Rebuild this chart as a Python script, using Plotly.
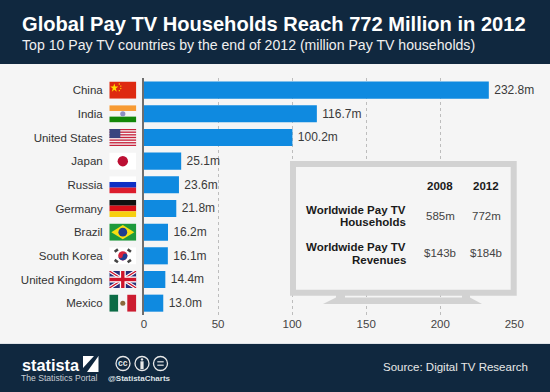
import base64
import plotly.graph_objects as go

countries = ["China", "India", "United States", "Japan", "Russia", "Germany", "Brazil",
             "South Korea", "United Kingdom", "Mexico"]
households = [232.8, 116.7, 100.2, 25.1, 23.6, 21.8, 16.2, 16.1, 14.4, 13.0]
table_years = ["2008", "2012"]
table_households = ["585m", "772m"]
table_revenues = ["$143b", "$184b"]
title_text = "Global Pay TV Households Reach 772 Million in 2012"
subtitle_text = "Top 10 Pay TV countries by the end of 2012 (million Pay TV households)"

W, H = 550, 392
NAVY = "#10283f"
FONT = "Liberation Sans, Arial, sans-serif"
def px(x): return x / W
def py(y): return 1 - y / H


def svg_uri(body):
    s = f'<svg xmlns="http://www.w3.org/2000/svg" viewBox="0 0 27 17" preserveAspectRatio="none">{body}</svg>'
    return "data:image/svg+xml;base64," + base64.b64encode(s.encode()).decode()


def r(x, y, w, h, c):
    return f'<rect x="{x}" y="{y}" width="{w}" height="{h}" fill="{c}"/>'


us = r(0, 0, 27, 17, "#f4f4f4")
for i in range(0, 13, 2):
    us += r(0, i * 17 / 13, 27, 17 / 13, "#c8223c")
us += r(0, 0, 11, 9, "#39457f")
flags = {
    "China": r(0, 0, 27, 17, "#de2910")
    + '<polygon points="5,2 6,5 9,5 6.5,7 7.5,10 5,8 2.5,10 3.5,7 1,5 4,5" fill="#ffde00"/>'
    + '<circle cx="10" cy="2.5" r=".7" fill="#ffde00"/><circle cx="11.5" cy="4.5" r=".7" fill="#ffde00"/>'
    + '<circle cx="11.5" cy="7" r=".7" fill="#ffde00"/><circle cx="10" cy="9" r=".7" fill="#ffde00"/>',
    "India": r(0, 0, 27, 5.7, "#f79a32") + r(0, 5.7, 27, 5.6, "#f5f5f5") + r(0, 11.3, 27, 5.7, "#138808")
    + '<circle cx="13.5" cy="8.5" r="2.6" fill="#8f8fc4"/>',
    "United States": us,
    "Japan": r(0, 0, 27, 17, "#ffffff") + '<circle cx="13.5" cy="8.5" r="5.2" fill="#bc0f33"/>',
    "Russia": r(0, 0, 27, 5.7, "#ffffff") + r(0, 5.7, 27, 5.6, "#0d2fc4") + r(0, 11.3, 27, 5.7, "#dc1c2c"),
    "Germany": r(0, 0, 27, 5.7, "#111111") + r(0, 5.7, 27, 5.6, "#d90f18") + r(0, 11.3, 27, 5.7, "#f7cf10"),
    "Brazil": r(0, 0, 27, 17, "#1e9a3c") + '<polygon points="13.5,1.5 25,8.5 13.5,15.5 2,8.5" fill="#f7de12"/>'
    + '<circle cx="13.5" cy="8.5" r="4.4" fill="#1e3d8f"/>',
    "South Korea": r(0, 0, 27, 17, "#ffffff")
    + '<circle cx="13.5" cy="8.5" r="4.6" fill="#d8233c"/>'
    + '<path d="M8.9,8.5 A4.6,4.6 0 0 0 18.1,8.5 A2.3,2.3 0 0 0 13.5,8.5 A2.3,2.3 0 0 1 8.9,8.5Z" fill="#1e3f94"/>'
    + ''.join(f'<rect x="{x}" y="{y}" width="4" height="2.6" fill="#444" transform="rotate({a} {x+2} {y+1.3})"/>'
              for x, y, a in [(5, 2, -35), (18, 2, 35), (5, 12.4, 35), (18, 12.4, -35)]),
    "United Kingdom": r(0, 0, 27, 17, "#2a2f78")
    + '<path d="M0,0L27,17M27,0L0,17" stroke="#fff" stroke-width="3.4"/>'
    + '<path d="M0,0L27,17M27,0L0,17" stroke="#cf142b" stroke-width="1.2"/>'
    + r(10.5, 0, 6, 17, "#fff") + r(0, 5.5, 27, 6, "#fff")
    + r(11.8, 0, 3.4, 17, "#cf142b") + r(0, 6.8, 27, 3.4, "#cf142b"),
    "Mexico": r(0, 0, 9, 17, "#0b6b45") + r(9, 0, 9, 17, "#f5f5f5") + r(18, 0, 9, 17, "#cc1c30")
    + '<circle cx="13.5" cy="8.5" r="2.5" fill="#8a6a3c"/>',
}

y_top, y_bot = 78.3, 315
step = (y_bot - y_top) / len(countries)
images = []
for i, c in enumerate(countries):
    cy = y_top + step * (i + 0.5)
    images.append(dict(source=svg_uri(flags[c]), xref="paper", yref="paper", x=px(109.3), y=py(cy - 8.6),
                       sizex=27 / W, sizey=17.2 / H, xanchor="left", yanchor="top", sizing="stretch", layer="above"))

bird = ('<svg xmlns="http://www.w3.org/2000/svg" viewBox="0 0 24 24"><path fill="#2fa3e6" d="M23 4.9c-.8.4-1.700.6-2.600.7.900-.6 1.600-1.400 2-2.500-.9.500-1.800.9-2.900 1.100a4.500 4.500 0 0 0-7.700 4.100C8 8.100 4.700 6.300 2.500 3.600c-1.200 2.100-.6 4.700 1.400 6-.7 0-1.400-.2-2-.6 0 2.200 1.500 4.100 3.600 4.500-.7.200-1.400.200-2 .1.600 1.800 2.200 3.100 4.200 3.100A9 9 0 0 1 1 18.600 12.800 12.800 0 0 0 20.700 7.200c.9-.6 1.700-1.400 2.300-2.300z"/></svg>')
images.append(dict(source="data:image/svg+xml;base64," + base64.b64encode(bird.encode()).decode(),
                   xref="paper", yref="paper", x=px(169), y=py(372), sizex=12 / W, sizey=12 / H,
                   xanchor="left", yanchor="top", sizing="contain", layer="above"))


def rect(x0, y0, x1, y1, fill, line=None, lw=0):
    return dict(type="rect", xref="paper", yref="paper", x0=px(x0), x1=px(x1), y0=py(y0), y1=py(y1),
                fillcolor=fill, line=dict(color=line or fill, width=lw), layer="above")


def poly(pts, fill):
    d = "M" + "L".join(f"{px(x):.5f},{py(y):.5f}" for x, y in pts) + "Z"
    return dict(type="path", xref="paper", yref="paper", path=d, fillcolor=fill, line=dict(width=0), layer="above")


def circ(cx, cy, rad, line="#e8e8e8"):
    return dict(type="circle", xref="paper", yref="paper", x0=px(cx - rad), x1=px(cx + rad), y0=py(cy - rad),
                y1=py(cy + rad), line=dict(color=line, width=1.3), fillcolor="rgba(0,0,0,0)", layer="above")


TV = "#d2d2d2"
shapes = [
    rect(0, 0, W, 64, NAVY),
    rect(0, 343, W, 344, "#dfe3e7"),
    rect(0, 344, W, H, NAVY),
    rect(293, 164, 513.7, 292.7, "#f5f5f5", TV, 6),
    poly([(336, 295), (345, 295), (345, 297.5), (462, 297.5), (462, 295), (470, 295), (470, 297.5),
          (482, 304), (323, 304), (336, 297.5)], TV),
    rect(83, 356, 98.5, 372, "#ffffff"),
    poly([(83, 372), (83, 368), (94, 356), (98.5, 356), (87, 372)], NAVY),
    circ(123, 363.5, 7), circ(142, 363.5, 7), circ(160.500, 363.5, 7),
    dict(type="circle", xref="paper", yref="paper", x0=px(140.8), x1=px(143.2), y0=py(360.6), y1=py(358.2),
         fillcolor="#e8e8e8", line=dict(width=0), layer="above"),
    rect(140.4, 361.3, 143.6, 369, "#e8e8e8"),
    rect(157.3, 361.2, 163.7, 362.4, "#e8e8e8"),
    rect(157.3, 364.6, 163.7, 365.8, "#e8e8e8"),
]


def note(x, y, text, size, color, anchor="left", bold=False, family=FONT):
    return dict(xref="paper", yref="paper", x=px(x), y=py(y), text=f"<b>{text}</b>" if bold else text,
                showarrow=False, xanchor=anchor, yanchor="middle", align=anchor,
                font=dict(size=size, color=color, family=family))


annotations = [
    note(20, 24, title_text, 20.1, "#ffffff", bold=True),
    note(20, 45, subtitle_text, 14.1, "#f0f0f0"),
    note(19.5, 364.5, "statista", 16.3, "#ffffff", bold=True),
    note(19, 377.5, "The Statistics Portal", 8.6, "#c8ced4"),
    note(123, 363.300, "cc", 8.5, "#e8e8e8", "center", bold=True),
    note(106, 378, "@StatistaCharts", 8, "#dfe3e7", bold=True),
    note(529.5, 367, "Source: Digital TV Research", 11.5, "#e8e8e8", "right"),
    note(407.5, 210, "Worldwide Pay TV", 11.5, "#1a1a1a", "right", True),
    note(407.5, 222.5, "Households", 11.5, "#1a1a1a", "right", True),
    note(407.5, 247, "Worldwide Pay TV", 11.5, "#1a1a1a", "right", True),
    note(407.5, 259.5, "Revenues", 11.5, "#1a1a1a", "right", True),
]
for xc, year, hh, rev in zip((440, 486), table_years, table_households, table_revenues):
    annotations += [
        note(xc, 186.500, year, 11.5, "#1a1a1a", "center", True),
        note(xc, 216, hh, 11.5, "#444444", "center"),
        note(xc, 253.500, rev, 11.5, "#444444", "center"),
    ]

fig = go.Figure(go.Bar(
    y=countries, x=households, orientation="h", width=0.72,
    marker=dict(color="#0f8ae0", line=dict(width=0)),
    text=households, texttemplate="\u2009%{x:.1f}m", textposition="outside", cliponaxis=False,
    textfont=dict(size=12, color="#3a3a3a", family=FONT), hoverinfo="skip",
))
fig.update_layout(
    width=W, height=H, margin=dict(l=0, r=0, t=0, b=0, pad=0), autosize=False,
    paper_bgcolor="#f5f5f5", plot_bgcolor="#f5f5f5", showlegend=False, bargap=0.28,
    font=dict(family=FONT), shapes=shapes, annotations=annotations, images=images,
    xaxis=dict(domain=[px(144), px(514.3)], range=[0, 250], tickvals=[0, 50, 100, 150, 200, 250],
               showgrid=True, griddash="dot", gridcolor="#bdbdbd", gridwidth=1, zeroline=False, showline=False,
               ticks="", ticklen=0, tickfont=dict(size=11.5, color="#444444"), anchor="y", automargin=False),
    yaxis=dict(domain=[py(y_bot), py(y_top)], autorange="reversed", type="category", showgrid=False, zeroline=False,
               showline=True, linecolor="#6e6e6e", linewidth=2, ticks="", automargin=False,
               ticklabelstandoff=37, tickfont=dict(size=11.5, color="#333333"), anchor="x"),
)
fig.write_html("out.html", config=dict(displayModeBar=False),
               post_script="document.body.style.margin='0';document.documentElement.style.overflow='hidden';")
